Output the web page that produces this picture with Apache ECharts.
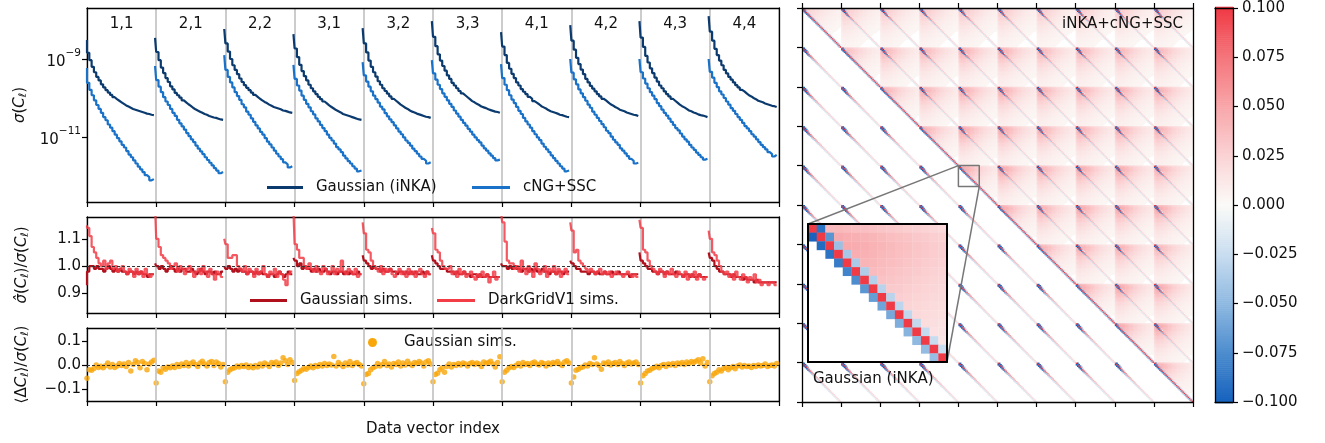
<!DOCTYPE html>
<html>
<head>
<meta charset="utf-8">
<script src="https://cdn.jsdelivr.net/npm/echarts@6/dist/echarts.min.js"></script>
<style>
  html, body { margin: 0; padding: 0; background: #fff; }
  #chart { width: 1325px; height: 443px; }
</style>
</head>
<body>
<div id="chart"></div>
<script>
// ---- spectra and binning ----
const blockLabels = ['1,1', '2,1', '2,2', '3,1', '3,2', '3,3', '4,1', '4,2', '4,3', '4,4'];
const BINS = 30;

// log10 of sigma(C_ell), one row per spectrum
const log10SigmaGauss = [
  [-8.51,-8.84,-9.03,-9.20,-9.34,-9.46,-9.55,-9.65,-9.73,-9.80,-9.86,-9.92,-9.98,-10.03,-10.07,-10.11,-10.15,-10.19,-10.22,-10.25,-10.28,-10.30,-10.32,-10.34,-10.36,-10.38,-10.40,-10.41,-10.43,-10.44],
  [-8.46,-8.82,-9.03,-9.22,-9.36,-9.49,-9.59,-9.70,-9.78,-9.87,-9.93,-9.99,-10.06,-10.11,-10.16,-10.20,-10.25,-10.29,-10.32,-10.35,-10.38,-10.41,-10.43,-10.46,-10.48,-10.50,-10.51,-10.53,-10.55,-10.56],
  [-8.23,-8.60,-8.81,-9.00,-9.16,-9.28,-9.39,-9.50,-9.59,-9.67,-9.74,-9.80,-9.86,-9.92,-9.97,-10.02,-10.06,-10.10,-10.13,-10.17,-10.20,-10.23,-10.25,-10.27,-10.29,-10.32,-10.33,-10.35,-10.37,-10.38],
  [-8.36,-8.73,-8.95,-9.15,-9.31,-9.44,-9.55,-9.66,-9.75,-9.83,-9.90,-9.97,-10.03,-10.09,-10.14,-10.19,-10.23,-10.27,-10.31,-10.34,-10.37,-10.41,-10.43,-10.45,-10.47,-10.49,-10.51,-10.53,-10.55,-10.56],
  [-8.21,-8.60,-8.83,-9.04,-9.20,-9.34,-9.45,-9.57,-9.66,-9.75,-9.82,-9.89,-9.96,-10.02,-10.07,-10.12,-10.17,-10.21,-10.25,-10.28,-10.32,-10.35,-10.37,-10.40,-10.42,-10.44,-10.46,-10.48,-10.49,-10.51],
  [-8.03,-8.43,-8.67,-8.88,-9.04,-9.18,-9.30,-9.42,-9.51,-9.61,-9.68,-9.75,-9.82,-9.88,-9.93,-9.98,-10.03,-10.08,-10.11,-10.15,-10.18,-10.22,-10.24,-10.26,-10.29,-10.31,-10.33,-10.35,-10.36,-10.38],
  [-8.31,-8.68,-8.90,-9.10,-9.25,-9.38,-9.49,-9.60,-9.68,-9.77,-9.84,-9.90,-9.97,-10.02,-10.08,-10.12,-10.16,-10.21,-10.24,-10.27,-10.31,-10.34,-10.36,-10.38,-10.40,-10.43,-10.44,-10.46,-10.48,-10.49],
  [-8.13,-8.53,-8.76,-8.97,-9.13,-9.27,-9.39,-9.51,-9.60,-9.69,-9.76,-9.83,-9.90,-9.96,-10.02,-10.06,-10.11,-10.16,-10.19,-10.23,-10.26,-10.30,-10.32,-10.34,-10.37,-10.39,-10.41,-10.43,-10.44,-10.46],
  [-8.03,-8.45,-8.69,-8.92,-9.09,-9.24,-9.36,-9.48,-9.58,-9.68,-9.75,-9.83,-9.90,-9.96,-10.02,-10.07,-10.12,-10.17,-10.21,-10.24,-10.28,-10.32,-10.34,-10.37,-10.39,-10.42,-10.44,-10.45,-10.47,-10.49],
  [-7.90,-8.30,-8.53,-8.74,-8.90,-9.04,-9.16,-9.28,-9.37,-9.46,-9.53,-9.60,-9.67,-9.73,-9.79,-9.83,-9.88,-9.93,-9.96,-10.00,-10.03,-10.07,-10.09,-10.11,-10.14,-10.16,-10.18,-10.20,-10.21,-10.23]
];
const log10SigmaNG = [
  [-9.23,-9.61,-9.79,-9.93,-10.06,-10.18,-10.28,-10.38,-10.49,-10.57,-10.68,-10.76,-10.85,-10.94,-11.03,-11.11,-11.20,-11.27,-11.36,-11.45,-11.52,-11.60,-11.68,-11.76,-11.83,-11.90,-11.98,-12.03,-12.11,-12.08],
  [-9.18,-9.54,-9.71,-9.85,-9.98,-10.09,-10.18,-10.28,-10.38,-10.46,-10.56,-10.65,-10.73,-10.81,-10.90,-10.98,-11.06,-11.13,-11.22,-11.30,-11.37,-11.44,-11.52,-11.59,-11.66,-11.73,-11.80,-11.86,-11.93,-11.90],
  [-8.90,-9.28,-9.46,-9.60,-9.73,-9.85,-9.95,-10.05,-10.16,-10.24,-10.35,-10.43,-10.52,-10.61,-10.70,-10.78,-10.87,-10.94,-11.03,-11.12,-11.19,-11.27,-11.35,-11.43,-11.50,-11.57,-11.65,-11.70,-11.78,-11.75],
  [-9.15,-9.51,-9.68,-9.81,-9.94,-10.05,-10.15,-10.24,-10.34,-10.42,-10.52,-10.60,-10.69,-10.77,-10.85,-10.94,-11.02,-11.09,-11.17,-11.26,-11.32,-11.39,-11.48,-11.55,-11.62,-11.68,-11.75,-11.81,-11.88,-11.86],
  [-9.08,-9.42,-9.58,-9.71,-9.83,-9.94,-10.03,-10.12,-10.22,-10.29,-10.39,-10.47,-10.55,-10.62,-10.70,-10.78,-10.86,-10.93,-11.01,-11.09,-11.15,-11.22,-11.30,-11.36,-11.43,-11.50,-11.56,-11.61,-11.68,-11.65],
  [-9.03,-9.37,-9.53,-9.66,-9.77,-9.88,-9.97,-10.06,-10.15,-10.23,-10.32,-10.40,-10.48,-10.56,-10.64,-10.71,-10.79,-10.86,-10.94,-11.01,-11.08,-11.14,-11.22,-11.29,-11.35,-11.42,-11.48,-11.54,-11.60,-11.58],
  [-9.13,-9.49,-9.66,-9.80,-9.93,-10.04,-10.13,-10.23,-10.33,-10.41,-10.51,-10.60,-10.68,-10.76,-10.85,-10.93,-11.01,-11.08,-11.17,-11.25,-11.32,-11.39,-11.47,-11.54,-11.61,-11.68,-11.75,-11.81,-11.88,-11.86],
  [-9.00,-9.35,-9.52,-9.65,-9.78,-9.88,-9.98,-10.07,-10.17,-10.25,-10.35,-10.43,-10.51,-10.59,-10.67,-10.75,-10.84,-10.90,-10.99,-11.07,-11.14,-11.20,-11.29,-11.35,-11.42,-11.49,-11.56,-11.61,-11.68,-11.66],
  [-9.00,-9.34,-9.50,-9.63,-9.75,-9.85,-9.94,-10.03,-10.13,-10.21,-10.30,-10.38,-10.45,-10.53,-10.61,-10.69,-10.77,-10.83,-10.91,-10.99,-11.06,-11.12,-11.20,-11.27,-11.33,-11.40,-11.46,-11.52,-11.58,-11.56],
  [-9.00,-9.33,-9.48,-9.61,-9.72,-9.83,-9.91,-10.00,-10.09,-10.17,-10.26,-10.33,-10.41,-10.49,-10.56,-10.64,-10.72,-10.78,-10.85,-10.93,-10.99,-11.06,-11.13,-11.20,-11.26,-11.32,-11.39,-11.44,-11.50,-11.46]
];

// sigma-hat / sigma from simulations
const ratioGaussSims = [
  [0.93,0.98,1.00,1.00,0.99,1.00,0.99,0.99,0.98,0.99,1.00,0.99,0.98,0.99,0.98,0.99,0.98,0.98,0.97,0.98,0.98,0.97,0.98,0.97,0.98,0.97,0.97,0.96,0.97,0.97],
  [1.01,1.00,0.99,1.00,0.99,0.98,0.99,1.00,0.99,0.98,0.99,0.98,0.99,0.99,0.98,0.98,0.99,0.98,0.97,0.98,0.99,0.98,0.97,0.98,0.98,0.97,0.98,0.97,0.97,0.98],
  [1.00,0.99,1.00,0.99,0.98,0.99,0.98,0.99,0.98,0.98,0.97,0.98,0.98,0.97,0.98,0.97,0.98,0.97,0.97,0.96,0.97,0.97,0.96,0.97,0.98,0.97,0.96,0.97,0.98,0.97],
  [1.03,1.02,1.00,1.01,0.99,1.00,0.99,0.99,0.98,0.99,0.98,0.99,0.98,0.98,0.99,0.98,0.97,0.98,0.98,0.97,0.98,0.98,0.97,0.98,0.97,0.98,0.97,0.97,0.98,0.97],
  [1.04,1.02,1.01,1.00,0.99,1.00,0.99,0.99,0.98,0.99,0.98,0.98,0.99,0.98,0.98,0.97,0.98,0.98,0.97,0.98,0.97,0.98,0.97,0.98,0.97,0.97,0.98,0.97,0.98,0.97],
  [1.04,1.02,1.01,1.00,0.99,0.99,0.99,0.98,0.98,0.98,0.97,0.98,0.97,0.97,0.98,0.97,0.97,0.96,0.97,0.97,0.96,0.97,0.96,0.96,0.97,0.96,0.96,0.96,0.96,0.96],
  [1.01,1.00,1.00,0.99,1.00,0.99,1.00,0.99,0.99,0.98,0.99,0.99,0.98,0.99,0.98,0.99,0.98,0.98,0.99,0.98,0.98,0.97,0.98,0.98,0.97,0.98,0.98,0.97,0.98,0.98],
  [1.02,1.01,1.00,0.99,0.99,0.98,0.98,0.98,0.97,0.98,0.98,0.97,0.98,0.97,0.97,0.98,0.97,0.97,0.98,0.97,0.97,0.98,0.97,0.97,0.97,0.97,0.96,0.97,0.97,0.97],
  [1.05,1.02,1.01,1.00,0.99,0.99,0.98,0.98,0.97,0.98,0.98,0.97,0.98,0.97,0.97,0.97,0.98,0.97,0.97,0.96,0.97,0.97,0.96,0.97,0.96,0.96,0.97,0.96,0.96,0.96],
  [1.05,1.03,1.02,1.00,0.99,0.98,0.98,0.97,0.97,0.97,0.96,0.97,0.96,0.96,0.96,0.95,0.96,0.95,0.95,0.95,0.94,0.95,0.94,0.94,0.94,0.94,0.94,0.94,0.94,0.94]
];
const ratioDarkGrid = [
  [1.15,1.14,1.11,1.07,1.05,1.03,1.01,1.00,1.02,0.99,1.01,1.02,0.99,1.00,0.98,0.99,1.00,0.98,0.97,0.99,0.98,0.96,0.99,0.97,0.98,0.96,0.99,0.97,0.96,0.97],
  [1.22,1.10,1.07,1.04,1.03,1.02,1.01,0.99,1.00,1.01,0.98,1.00,0.99,0.97,0.99,1.00,0.98,0.96,0.98,0.99,0.97,1.00,0.98,0.96,0.99,0.97,0.95,0.98,0.97,0.96],
  [1.10,1.08,1.03,1.03,1.04,1.04,1.00,0.99,0.98,1.00,0.97,0.99,0.98,0.96,0.99,0.97,0.98,1.00,0.97,0.96,0.98,0.97,0.99,0.96,0.98,0.97,0.95,0.93,0.97,0.98],
  [1.20,1.08,1.06,1.03,1.03,1.00,0.99,1.01,0.99,0.98,1.00,0.98,0.97,1.00,0.99,0.97,0.98,1.00,0.97,0.99,0.98,1.02,0.98,0.97,0.99,0.98,0.97,0.99,0.96,0.97],
  [1.16,1.12,1.06,1.05,1.02,1.00,0.99,0.98,1.00,0.97,0.99,0.98,0.99,0.97,0.96,0.98,0.99,0.97,0.98,0.96,0.99,0.97,0.98,0.96,0.98,0.99,0.97,0.96,0.98,0.97],
  [1.14,1.12,1.06,1.05,1.02,1.00,0.99,0.99,1.00,0.97,0.98,0.96,0.99,0.97,0.98,0.96,0.97,0.98,0.96,0.95,0.97,0.96,0.98,0.96,0.97,0.94,0.96,0.98,0.95,0.96],
  [1.20,1.16,1.09,1.02,1.01,1.01,0.99,1.00,0.98,1.02,0.99,0.97,1.00,0.98,0.96,1.01,0.99,0.97,0.98,1.00,0.96,0.99,0.98,1.00,0.97,0.99,0.96,0.98,0.99,0.97],
  [1.16,1.13,1.05,1.06,1.02,1.01,1.00,0.99,0.98,0.99,0.98,0.97,0.98,0.99,0.97,0.98,0.97,0.98,0.96,0.97,0.98,0.97,0.97,0.96,0.97,0.98,0.97,0.96,0.97,0.96],
  [1.17,1.14,1.06,1.05,1.02,1.00,0.99,0.98,0.97,0.99,0.98,0.96,0.98,0.97,0.99,0.97,0.96,0.98,0.97,0.96,0.98,0.95,0.97,0.96,0.98,0.95,0.97,0.96,0.95,0.96],
  [1.13,1.10,1.05,1.04,1.02,1.00,0.98,0.97,0.98,0.96,0.97,0.95,0.98,0.96,0.95,0.97,0.96,0.94,0.96,0.95,0.97,0.94,0.95,0.93,0.94,0.94,0.93,0.94,0.94,0.93]
];

// <Delta C_ell> / sigma(C_ell) for the Gaussian simulations
const meanShiftGauss = [
  [-0.055,-0.020,-0.022,-0.015,0.000,-0.010,-0.005,-0.012,-0.003,0.008,-0.008,0.002,-0.010,-0.004,0.006,-0.002,0.004,-0.006,0.010,-0.025,0.002,0.018,0.010,-0.012,0.014,0.006,-0.020,0.004,0.012,0.020],
  [-0.075,-0.025,-0.030,-0.012,-0.018,-0.008,-0.012,-0.004,-0.010,0.002,-0.006,0.004,-0.002,0.010,-0.004,0.006,0.012,0.002,-0.006,0.008,0.016,0.004,-0.004,0.010,0.014,-0.002,0.012,0.006,-0.008,0.002],
  [-0.070,-0.030,-0.020,-0.015,-0.012,-0.004,-0.008,-0.002,-0.006,0.000,-0.010,-0.004,-0.012,-0.002,-0.008,0.004,-0.004,0.008,0.002,-0.006,0.010,0.004,0.012,-0.002,0.008,0.030,0.018,0.002,0.022,0.010],
  [-0.065,-0.035,-0.028,-0.022,-0.015,-0.018,-0.010,-0.004,-0.012,-0.002,-0.006,0.002,-0.004,0.006,-0.002,0.004,0.000,0.035,-0.004,0.010,0.002,-0.006,0.008,0.000,0.014,-0.002,0.006,0.010,0.002,-0.004],
  [-0.078,-0.040,-0.035,-0.020,-0.012,-0.006,0.006,-0.004,0.002,0.014,-0.002,0.004,-0.008,0.006,0.002,0.012,-0.004,0.008,0.000,0.016,0.004,-0.002,0.010,0.006,0.014,0.008,-0.004,0.012,0.018,0.004],
  [-0.070,-0.040,-0.034,-0.020,-0.012,-0.030,-0.006,0.004,-0.008,0.002,-0.002,0.006,0.000,0.008,0.004,-0.004,0.006,0.010,0.002,0.008,0.004,-0.006,0.012,0.006,0.010,0.016,0.004,-0.008,0.010,0.034],
  [-0.070,-0.030,-0.022,-0.012,-0.006,-0.010,-0.002,0.006,-0.004,0.010,0.002,0.006,-0.002,0.008,0.012,0.004,0.000,0.010,0.006,-0.004,0.008,0.002,0.010,0.006,0.014,0.004,-0.002,0.012,0.018,0.008],
  [-0.075,-0.050,-0.022,-0.018,-0.010,-0.008,0.000,-0.004,0.006,0.002,0.030,0.004,-0.002,-0.018,0.008,0.004,0.012,0.000,0.006,0.010,0.002,0.014,0.006,-0.002,0.008,0.012,0.004,0.008,0.012,0.002],
  [-0.075,-0.045,-0.035,-0.025,-0.022,-0.015,-0.010,-0.005,-0.012,-0.002,0.002,-0.006,0.004,0.000,0.006,-0.002,0.008,0.004,0.010,0.002,0.012,0.006,0.014,0.010,0.016,0.022,0.008,0.026,-0.004,0.010],
  [-0.070,-0.045,-0.035,-0.030,-0.020,-0.025,-0.015,-0.010,-0.020,-0.012,-0.006,-0.016,-0.004,0.000,-0.008,-0.002,-0.006,-0.004,-0.010,-0.002,-0.006,0.000,-0.004,-0.002,0.004,-0.006,-0.002,0.000,-0.004,0.006]
];

// ---- correlation matrix ingredients ----
// super-sample amplitude for each spectrum pair (row I, columns J >= I)
const sscAmplitude = [
  [0.026,0.030,0.030,0.032,0.032,0.032,0.030,0.030,0.030,0.030],
  [0.038,0.042,0.042,0.046,0.046,0.042,0.042,0.042,0.042],
  [0.044,0.046,0.048,0.048,0.046,0.046,0.046,0.046],
  [0.046,0.050,0.050,0.046,0.046,0.046,0.046],
  [0.050,0.050,0.046,0.050,0.050,0.046],
  [0.050,0.046,0.050,0.050,0.050],
  [0.046,0.046,0.046,0.042],
  [0.050,0.050,0.050],
  [0.050,0.050],
  [0.046]
];
const sscRowProfile = [0.80,0.95,1.00,0.98,0.94,0.89,0.84,0.79,0.74,0.69,0.64,0.60,0.56,0.52,0.48,0.45,0.42,0.39,0.36,0.33,0.31,0.29,0.27,0.25,0.23,0.21,0.20,0.19,0.18,0.17];
const sscColProfile = [0.80,0.95,1.00,0.99,0.96,0.93,0.90,0.86,0.82,0.78,0.74,0.70,0.66,0.62,0.58,0.55,0.52,0.49,0.46,0.43,0.40,0.38,0.36,0.34,0.32,0.30,0.28,0.26,0.25,0.24];
// Gaussian terms between two spectra: same-ell line and its neighbour bins
const crossLineOnDiag = [0.10,0.10,0.10,0.10,0.10,0.09,0.08,0.07,0.062,0.056,0.05,0.046,0.042,0.039,0.036,0.034,0.032,0.030,0.028,0.027,0.026,0.025,0.024,0.023,0.022,0.022,0.021,0.021,0.020,0.020];
const crossLineBelow = [-0.10,-0.10,-0.10,-0.09,-0.08,-0.065,-0.05,-0.04,-0.034,-0.03,-0.027,-0.024,-0.022,-0.02,-0.019,-0.018,-0.017,-0.016,-0.015,-0.015,-0.014,-0.014,-0.013,-0.013,-0.012,-0.012,-0.012,-0.011,-0.011];
const crossLineAbove = [-0.10,-0.10,-0.08,-0.05,-0.02,-0.01,0,0,0,0,0,0,0,0,0,0,0,0,0,0,0,0,0,0,0,0,0,0,0];
// neighbour-bin correlation within one spectrum (below / above the diagonal)
const autoLowerAdjacent = [-0.10,-0.095,-0.09,-0.085,-0.08,-0.075,-0.07,-0.066,-0.062,-0.059,-0.056,-0.053,-0.05,-0.048,-0.046,-0.045,-0.044,-0.043,-0.042,-0.042,-0.041,-0.041,-0.040,-0.040,-0.040,-0.040,-0.040,-0.040,-0.040];
const autoUpperAdjacent = [-0.09,-0.07,-0.045,-0.04,-0.038,-0.036,-0.034,-0.032,-0.031,-0.030,-0.029,-0.028,-0.027,-0.026,-0.025,-0.025,-0.024,-0.024,-0.023,-0.023,-0.022,-0.022,-0.022,-0.021,-0.021,-0.021,-0.020,-0.020,-0.020];

const colorbarTicks = { min: -0.1, max: 0.1, interval: 0.025 };
const zoomWindow = { start: 120, size: 16 };

// ---- helpers ----
const FONT = 'DejaVu Sans';
const INK = '#111';
const NBIN = BINS * blockLabels.length;

function stepData(blocks) {
  const out = [];
  blocks.forEach((vals, b) => {
    vals.forEach((v, k) => out.push([b * BINS + k, v]));
    out.push([b * BINS + BINS - 0.5, '-']);
  });
  return out;
}
function pointData(blocks) {
  const out = [];
  blocks.forEach((vals, b) => vals.forEach((v, k) => out.push([b * BINS + k, v])));
  return out;
}
function ssc(I, J, k, m) {
  return sscAmplitude[I][J - I] * sscRowProfile[k] * sscColProfile[m];
}
function correlation(i, j) {
  const I = Math.floor(i / BINS), k = i % BINS;
  const J = Math.floor(j / BINS), m = j % BINS;
  if (I === J) {
    if (k === m) return 1;
    if (k === m + 1) return autoLowerAdjacent[m];
    if (m === k + 1) return autoUpperAdjacent[k];
    if (m > k) return ssc(I, J, k, m);
    return 0;
  }
  const base = I < J ? ssc(I, J, k, m) : 0;
  if (k === m) return crossLineOnDiag[k];
  if (k === m + 1) return crossLineBelow[m];
  if (m === k + 1 && crossLineAbove[k] !== 0) return crossLineAbove[k];
  return base;
}
const clip = v => Math.max(colorbarTicks.min, Math.min(colorbarTicks.max, v));

const matrixCells = [];
for (let i = 0; i < NBIN; i++) {
  for (let j = 0; j < NBIN; j++) {
    const v = correlation(i, j);
    if (Math.abs(v) >= 0.003) matrixCells.push([j, i, clip(v)]);
  }
}
const insetCells = [];
for (let a = 0; a < zoomWindow.size; a++) {
  for (let b = 0; b < zoomWindow.size; b++) {
    const v = correlation(zoomWindow.start + a, zoomWindow.start + b);
    if (Math.abs(v) >= 0.002) insetCells.push([b, a, clip(v)]);
  }
}
const colorbarCells = [];
const CB_STEP = 0.001;
for (let v = colorbarTicks.min; v <= colorbarTicks.max + 1e-9; v += CB_STEP) {
  colorbarCells.push([0, +v.toFixed(4), +v.toFixed(4)]);
}

function cellRenderer(overlap) {
  return function (params, api) {
    const c = api.value(0), r = api.value(1);
    const p0 = api.coord([c, r]);
    const p1 = api.coord([c + 1, r + 1]);
    return {
      type: 'rect',
      shape: {
        x: Math.min(p0[0], p1[0]), y: Math.min(p0[1], p1[1]),
        width: Math.abs(p1[0] - p0[0]) + overlap, height: Math.abs(p1[1] - p0[1]) + overlap
      },
      style: { fill: api.visual('color') }
    };
  };
}
function colorbarItem(params, api) {
  const v = api.value(1);
  const p0 = api.coord([0, v - CB_STEP / 2]);
  const p1 = api.coord([1, v + CB_STEP / 2]);
  return {
    type: 'rect',
    shape: { x: p0[0], y: Math.min(p0[1], p1[1]) - 0.3, width: p1[0] - p0[0], height: Math.abs(p1[1] - p0[1]) + 0.6 },
    style: { fill: api.visual('color') }
  };
}

const powerLabel = v => '{b|10}{p|\u2212' + Math.abs(Math.round(v)) + '}';
const minusFix = s => s.replace('-', '\u2212');

const frameLine = { show: true, onZero: false, lineStyle: { color: '#000', width: 1.3 } };
const insetLine = { show: true, onZero: false, lineStyle: { color: '#000', width: 2 } };
const tickOut = { show: true, inside: false, length: 5, lineStyle: { color: '#000', width: 1.2 } };
const noSplit = { show: false };
const labelStyle = { color: INK, fontFamily: FONT, fontSize: 15 };
const mathRich = {
  i: { fontStyle: 'italic', fontFamily: FONT, fontSize: 15, color: INK },
  s: { fontStyle: 'italic', fontFamily: FONT, fontSize: 10.5, color: INK, padding: [6, 0, 0, 0] }
};
const powerRich = {
  b: { fontFamily: FONT, fontSize: 15, color: INK, lineHeight: 22, verticalAlign: 'bottom' },
  p: { fontFamily: FONT, fontSize: 10.5, color: INK, verticalAlign: 'top' }
};

function frameAxis(extra) {
  return Object.assign({
    type: 'value', min: 0, max: 1,
    axisLine: frameLine, axisTick: { show: false }, axisLabel: { show: false }, splitLine: noSplit
  }, extra);
}
function indexAxis(gridIndex, extra) {
  return Object.assign({
    type: 'value', gridIndex, position: 'bottom', min: 0, max: NBIN, interval: BINS,
    axisLine: frameLine, axisTick: tickOut, axisLabel: { show: false },
    splitLine: { show: true, lineStyle: { color: '#cccccc', width: 2 } }
  }, extra);
}

const COL = {
  navy: '#0b3a6e', blue: '#1a72c8', darkRed: '#b0101c', red: '#f23c46', orange: '#f9a60a', gray: '#777777'
};
const blockEdges = blockLabels.slice(1).map((_, b) => ({ xAxis: (b + 1) * BINS }));

const chart = echarts.init(document.getElementById('chart'), null, { renderer: 'canvas' });

const option = {
  animation: false,
  backgroundColor: '#fff',
  textStyle: { fontFamily: FONT },
  grid: [
    { left: 87, top: 8, width: 692, height: 194 },
    { left: 87, top: 217, width: 692, height: 96 },
    { left: 87, top: 328, width: 692, height: 73 },
    { left: 802, top: 8, width: 391, height: 394 },
    { left: 808, top: 224, width: 139, height: 138, show: true, backgroundColor: '#fff', borderWidth: 0, z: 20 },
    { left: 1215, top: 8, width: 18, height: 394 }
  ],
  xAxis: [
    indexAxis(0),
    { type: 'category', gridIndex: 0, position: 'top', data: blockLabels, boundaryGap: true,
      axisLine: frameLine, axisTick: { show: false }, splitLine: noSplit,
      axisLabel: Object.assign({ inside: true, margin: 9, interval: 0 }, labelStyle) },
    indexAxis(1),
    frameAxis({ gridIndex: 1, position: 'top' }),
    indexAxis(2, { name: 'Data vector index', nameLocation: 'middle', nameGap: 21, nameTextStyle: labelStyle }),
    frameAxis({ gridIndex: 2, position: 'top' }),
    { type: 'value', gridIndex: 3, position: 'bottom', min: 0, max: NBIN, interval: BINS, z: 10,
      axisLine: frameLine, axisTick: tickOut, axisLabel: { show: false }, splitLine: noSplit },
    { type: 'value', gridIndex: 3, position: 'top', min: 0, max: NBIN, interval: BINS, z: 10,
      axisLine: frameLine, axisTick: tickOut, axisLabel: { show: false }, splitLine: noSplit },
    frameAxis({ gridIndex: 4, position: 'bottom', min: 0, max: zoomWindow.size, z: 25, axisLine: insetLine }),
    frameAxis({ gridIndex: 4, position: 'top', min: 0, max: zoomWindow.size, z: 25, axisLine: insetLine }),
    frameAxis({ gridIndex: 5, position: 'bottom', z: 10 }),
    frameAxis({ gridIndex: 5, position: 'top', z: 10 })
  ],
  yAxis: [
    { type: 'value', gridIndex: 0, position: 'left', min: -12.667, max: -7.692,
      axisLine: frameLine, splitLine: noSplit,
      axisTick: Object.assign({ customValues: [-11, -9] }, tickOut),
      axisLabel: Object.assign({ customValues: [-11, -9], margin: 6, formatter: powerLabel, rich: powerRich }, labelStyle),
      name: '{i|σ}({i|C}{s|ℓ})', nameLocation: 'middle', nameGap: 58, nameRotate: 90,
      nameTextStyle: Object.assign({ rich: mathRich }, labelStyle) },
    frameAxis({ gridIndex: 0, position: 'right' }),
    { type: 'value', gridIndex: 1, position: 'left', min: 0.828, max: 1.18,
      axisLine: frameLine, splitLine: noSplit,
      axisTick: Object.assign({ customValues: [0.9, 1.0, 1.1] }, tickOut),
      axisLabel: Object.assign({ customValues: [0.9, 1.0, 1.1], margin: 6, formatter: v => v.toFixed(1) }, labelStyle),
      name: '{i|σ̂}({i|C}{s|ℓ})/{i|σ}({i|C}{s|ℓ})', nameLocation: 'middle', nameGap: 56, nameRotate: 90,
      nameTextStyle: Object.assign({ rich: mathRich }, labelStyle) },
    frameAxis({ gridIndex: 1, position: 'right' }),
    { type: 'value', gridIndex: 2, position: 'left', min: -0.15, max: 0.154,
      axisLine: frameLine, splitLine: noSplit,
      axisTick: Object.assign({ customValues: [-0.1, 0, 0.1] }, tickOut),
      axisLabel: Object.assign({ customValues: [-0.1, 0, 0.1], margin: 6, formatter: v => minusFix(v.toFixed(1)) }, labelStyle),
      name: '⟨Δ{i|C}{s|ℓ}⟩/{i|σ}({i|C}{s|ℓ})', nameLocation: 'middle', nameGap: 56, nameRotate: 90,
      nameTextStyle: Object.assign({ rich: mathRich }, labelStyle) },
    frameAxis({ gridIndex: 2, position: 'right' }),
    { type: 'value', gridIndex: 3, position: 'left', inverse: true, min: 0, max: NBIN, interval: BINS, z: 10,
      axisLine: frameLine, axisTick: tickOut, axisLabel: { show: false }, splitLine: noSplit },
    frameAxis({ gridIndex: 3, position: 'right', min: 0, max: NBIN, z: 10 }),
    frameAxis({ gridIndex: 4, position: 'left', inverse: true, min: 0, max: zoomWindow.size, z: 25, axisLine: insetLine }),
    frameAxis({ gridIndex: 4, position: 'right', min: 0, max: zoomWindow.size, z: 25, axisLine: insetLine }),
    frameAxis({ gridIndex: 5, position: 'left', min: colorbarTicks.min, max: colorbarTicks.max, z: 10 }),
    { type: 'value', gridIndex: 5, position: 'right', min: colorbarTicks.min, max: colorbarTicks.max, interval: colorbarTicks.interval, z: 10,
      axisLine: frameLine, axisTick: tickOut, splitLine: noSplit,
      axisLabel: Object.assign({ margin: 9, formatter: v => minusFix(v.toFixed(3)) }, labelStyle) }
  ],
  visualMap: {
    show: false, type: 'continuous', min: colorbarTicks.min, max: colorbarTicks.max, dimension: 2,
    seriesIndex: [5, 7, 8],
    inRange: { color: ['#1662be', '#4d8dce', '#8fb9e1', '#c9ddf0', '#fbfbf8', '#fbd3d5', '#f8a6a9', '#f4767c', '#f03a45'] }
  },
  legend: [
    { left: 267, top: 180, padding: 0, selectedMode: false, icon: 'rect', itemWidth: 36, itemHeight: 3,
      data: ['Gaussian (iNKA)'], textStyle: Object.assign({ padding: [0, 0, 0, 8] }, labelStyle) },
    { left: 472, top: 180, padding: 0, selectedMode: false, icon: 'rect', itemWidth: 38, itemHeight: 3,
      data: ['cNG+SSC'], textStyle: Object.assign({ padding: [0, 0, 0, 8] }, labelStyle) },
    { left: 250, top: 293, padding: 0, selectedMode: false, icon: 'rect', itemWidth: 37, itemHeight: 3,
      data: ['Gaussian sims.'], textStyle: Object.assign({ padding: [0, 0, 0, 8] }, labelStyle) },
    { left: 437, top: 293, padding: 0, selectedMode: false, icon: 'rect', itemWidth: 38, itemHeight: 3,
      data: ['DarkGridV1 sims.'], textStyle: Object.assign({ padding: [0, 0, 0, 8] }, labelStyle) },
    { left: 368, top: 335, padding: 0, selectedMode: false, itemWidth: 9, itemHeight: 9,
      data: [{ name: 'Gaussian sims.', icon: 'circle', itemStyle: { color: COL.orange, borderWidth: 0 } }],
      textStyle: Object.assign({ padding: [0, 0, 0, 22] }, labelStyle) }
  ],
  title: [
    { text: 'iNKA+cNG+SSC', right: 1325 - 1183, top: 17, padding: 0, z: 30,
      textStyle: { fontFamily: FONT, fontSize: 15, fontWeight: 'normal', color: INK } },
    { text: 'Gaussian (iNKA)', left: 813, top: 372, padding: 0, z: 30,
      textStyle: { fontFamily: FONT, fontSize: 15, fontWeight: 'normal', color: INK } }
  ],
  series: [
    { name: 'Gaussian (iNKA)', type: 'line', xAxisIndex: 0, yAxisIndex: 0, step: 'start', showSymbol: false,
      data: stepData(log10SigmaGauss), lineStyle: { color: COL.navy, width: 2.2 }, itemStyle: { color: COL.navy } },
    { name: 'cNG+SSC', type: 'line', xAxisIndex: 0, yAxisIndex: 0, step: 'start', showSymbol: false,
      data: stepData(log10SigmaNG), lineStyle: { color: COL.blue, width: 2.2 }, itemStyle: { color: COL.blue } },
    { name: 'Gaussian sims.', type: 'line', xAxisIndex: 2, yAxisIndex: 2, step: 'start', showSymbol: false,
      data: stepData(ratioGaussSims), lineStyle: { color: COL.darkRed, width: 2.2 }, itemStyle: { color: COL.darkRed },
      markLine: { silent: true, symbol: 'none', label: { show: false },
        lineStyle: { color: '#333', type: [3, 2], width: 1 }, data: [{ yAxis: 1 }] } },
    { name: 'DarkGridV1 sims.', type: 'line', xAxisIndex: 2, yAxisIndex: 2, step: 'start', showSymbol: false,
      data: stepData(ratioDarkGrid), lineStyle: { color: COL.red, width: 2.2, opacity: 0.85 }, itemStyle: { color: COL.red } },
    { name: 'Gaussian sims.', type: 'scatter', xAxisIndex: 4, yAxisIndex: 4, symbolSize: 5.5,
      data: pointData(meanShiftGauss), itemStyle: { color: COL.orange },
      markLine: { silent: true, symbol: 'none', label: { show: false },
        lineStyle: { color: '#333', type: [3, 2], width: 1 },
        data: [{ yAxis: 0 }].concat(blockEdges.map(e => Object.assign({ lineStyle: { color: '#cccccc', type: 'solid', width: 2, opacity: 0.75 } }, e))) } },
    { type: 'custom', xAxisIndex: 6, yAxisIndex: 6, renderItem: cellRenderer(0.4), data: matrixCells,
      encode: { x: 0, y: 1 }, progressive: 0, silent: true, z: 2 },
    { type: 'line', xAxisIndex: 6, yAxisIndex: 6, showSymbol: false, silent: true, z: 4,
      data: [[zoomWindow.start, zoomWindow.start], [zoomWindow.start + zoomWindow.size, zoomWindow.start],
             [zoomWindow.start + zoomWindow.size, zoomWindow.start + zoomWindow.size],
             [zoomWindow.start, zoomWindow.start + zoomWindow.size], [zoomWindow.start, zoomWindow.start]],
      lineStyle: { color: COL.gray, width: 1.5 } },
    { type: 'custom', xAxisIndex: 8, yAxisIndex: 8, renderItem: cellRenderer(0.3), data: insetCells,
      encode: { x: 0, y: 1 }, progressive: 0, silent: true, z: 21 },
    { type: 'custom', xAxisIndex: 10, yAxisIndex: 10, renderItem: colorbarItem, data: colorbarCells,
      encode: { x: 0, y: 1 }, progressive: 0, silent: true, z: 2 }
  ]
};
chart.setOption(option);

// connector lines from the zoom window to the inset corners
const finderMain = { xAxisIndex: 6, yAxisIndex: 6 };
const finderInset = { xAxisIndex: 8, yAxisIndex: 8 };
const wTopLeft = chart.convertToPixel(finderMain, [zoomWindow.start, zoomWindow.start]);
const wBotRight = chart.convertToPixel(finderMain, [zoomWindow.start + zoomWindow.size, zoomWindow.start + zoomWindow.size]);
const iTopLeft = chart.convertToPixel(finderInset, [0, 0]);
const iBotRight = chart.convertToPixel(finderInset, [zoomWindow.size, zoomWindow.size]);
chart.setOption({
  graphic: [
    { type: 'line', z: 15, silent: true, shape: { x1: wTopLeft[0], y1: wTopLeft[1], x2: iTopLeft[0], y2: iTopLeft[1] },
      style: { stroke: COL.gray, lineWidth: 1.5 } },
    { type: 'line', z: 15, silent: true, shape: { x1: wBotRight[0], y1: wBotRight[1], x2: iBotRight[0], y2: iBotRight[1] },
      style: { stroke: COL.gray, lineWidth: 1.5 } }
  ]
});
</script>
</body>
</html>
